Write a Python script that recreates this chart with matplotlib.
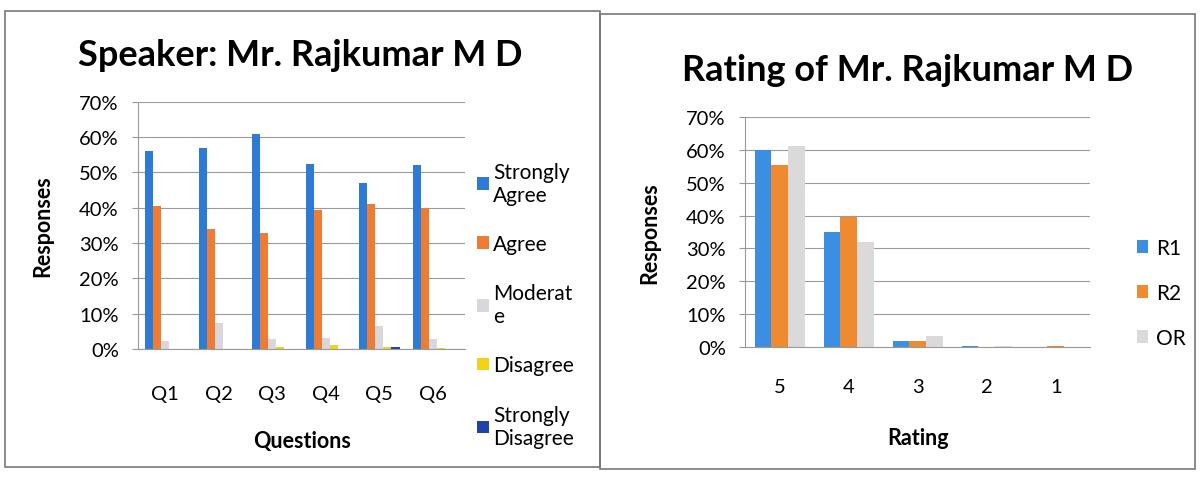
import matplotlib.pyplot as plt
import numpy as np
from matplotlib.patches import Rectangle
from matplotlib.ticker import PercentFormatter

plt.rcParams['font.family'] = ['Lato', 'DejaVu Sans']

# left chart: feedback per question
questions = ['Q1', 'Q2', 'Q3', 'Q4', 'Q5', 'Q6']
strongly_agree = [0.56, 0.57, 0.61, 0.525, 0.47, 0.52]
agree = [0.405, 0.34, 0.33, 0.395, 0.41, 0.40]
moderate = [0.023, 0.075, 0.03, 0.033, 0.065, 0.03]
disagree = [0.0, 0.0, 0.005, 0.012, 0.006, 0.004]
strongly_disagree = [0.0, 0.0, 0.0, 0.0, 0.006, 0.0]
left_names = ['Strongly\nAgree', 'Agree', 'Moderat\ne', 'Disagree', 'Strongly\nDisagree']

# right chart: rating distribution
ratings = ['5', '4', '3', '2', '1']
r1 = [0.60, 0.35, 0.02, 0.003, 0.002]
r2 = [0.555, 0.395, 0.02, 0.0, 0.005]
orr = [0.61, 0.32, 0.035, 0.005, 0.0]
right_names = ['R1', 'R2', 'OR']

fig = plt.figure(figsize=(12.02, 4.85), dpi=100)

# panel borders
fig.patches.append(Rectangle((0.004, 0.035), 0.495, 0.94, transform=fig.transFigure,
                             fill=False, edgecolor='#777777', lw=1.2))
fig.patches.append(Rectangle((0.499, 0.03), 0.495, 0.94, transform=fig.transFigure,
                             fill=False, edgecolor='#777777', lw=1.2))


def style_axes(ax, xpad):
    ax.set_ylim(0, 0.7)
    ax.set_yticks(np.arange(0, 0.71, 0.1))
    ax.yaxis.set_major_formatter(PercentFormatter(1.0, decimals=0))
    ax.grid(axis='y', color='#9a9a9a', lw=0.8)
    ax.set_axisbelow(True)
    for s in ['top', 'right']:
        ax.spines[s].set_visible(False)
    ax.spines['left'].set_color('#9a9a9a')
    ax.spines['bottom'].set_color('#9a9a9a')
    ax.tick_params(axis='y', labelsize=14.5, length=4, color='#9a9a9a', pad=10)
    ax.tick_params(axis='x', labelsize=14.5, length=0, pad=xpad)


# ---- left
ax1 = fig.add_axes([0.115, 0.278, 0.272, 0.510])
left_series = [strongly_agree, agree, moderate, disagree, strongly_disagree]
left_colors = ['#2E7BD6', '#EE7D33', '#D9D6DC', '#F5D21A', '#1F44A8']
x = np.arange(len(questions))
w = 0.15
for i, (vals, c, n) in enumerate(zip(left_series, left_colors, left_names)):
    ax1.bar(x + (i - 2) * w, vals, w, color=c, label=n)
ax1.set_xticks(x)
ax1.set_xticklabels(questions)
ax1.set_xlim(-0.5, 5.6)
style_axes(ax1, 26)
ax1.set_xlabel('Questions', fontsize=15.5, fontweight='bold', labelpad=20)
ax1.set_ylabel('Responses', fontsize=15.5, fontweight='bold', labelpad=19)
ax1.legend(loc='center left', bbox_to_anchor=(0.98, 0.18), frameon=False, fontsize=15,
           handlelength=0.55, handleheight=0.55, handletextpad=0.2, labelspacing=1.4)
fig.text(0.25, 0.885, 'Speaker: Mr. Rajkumar M D', ha='center', va='center',
         fontsize=26, fontweight='bold')

# ---- right
ax2 = fig.add_axes([0.620, 0.282, 0.287, 0.475])
right_series = [r1, r2, orr]
right_colors = ['#3A8FE2', '#F08A30', '#DADADA']
x2 = np.arange(len(ratings))
w2 = 0.24
for i, (vals, c, n) in enumerate(zip(right_series, right_colors, right_names)):
    ax2.bar(x2 + (i - 1) * w2, vals, w2, color=c, label=n)
ax2.set_xticks(x2)
ax2.set_xticklabels(ratings)
ax2.set_xlim(-0.5, 4.5)
style_axes(ax2, 22)
ax2.set_xlabel('Rating', fontsize=15.5, fontweight='bold', labelpad=23)
ax2.set_ylabel('Responses', fontsize=15.5, fontweight='bold', labelpad=19)
ax2.legend(loc='center left', bbox_to_anchor=(1.08, 0.235), frameon=False, fontsize=15,
           handlelength=0.55, handleheight=0.55, handletextpad=0.4, labelspacing=1.2)
fig.text(0.755, 0.855, 'Rating of Mr. Rajkumar M D', ha='center', va='center',
         fontsize=26, fontweight='bold')

fig.savefig('out.png', dpi=100)
